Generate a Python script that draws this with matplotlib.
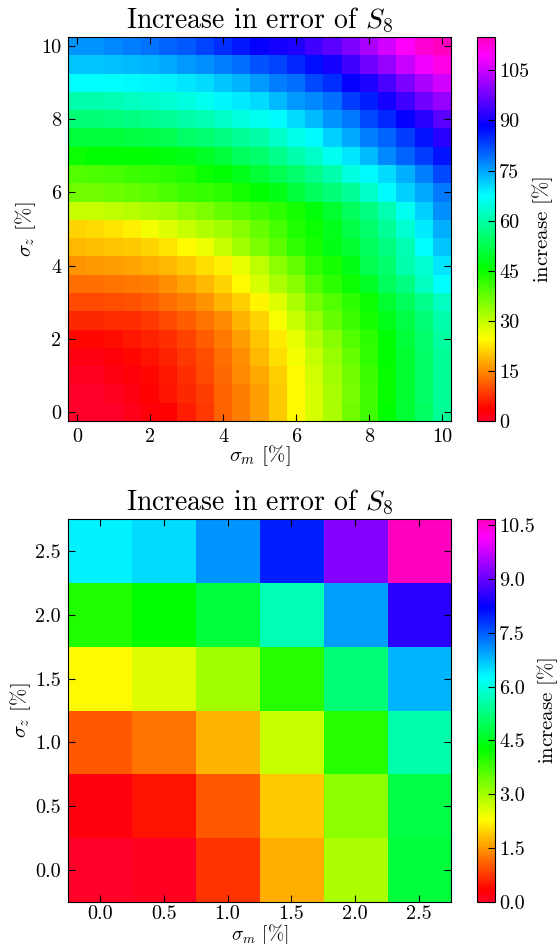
import numpy as np
import matplotlib
matplotlib.use("Agg")
import matplotlib.pyplot as plt

plt.rcParams["font.family"] = "serif"
plt.rcParams["font.serif"] = ["cmr10", "DejaVu Serif"]
plt.rcParams["mathtext.fontset"] = "cm"
plt.rcParams["axes.unicode_minus"] = False
plt.rcParams["axes.formatter.use_mathtext"] = True

# grid of sigma_m / sigma_z values [%]
sigma_fine = np.arange(0, 10.01, 0.5)
sigma_coarse = np.arange(0, 2.51, 0.5)

# increase in error of S8 [%], rows from sigma_z = 0 up to sigma_z = 10
inc_fine = [
    [0, 0, 0.3, 1.5, 3, 4, 6, 8.5, 11.8, 14.3, 17, 20.3, 24.5, 28, 31.8, 36.5, 40.5, 46, 50.5, 54, 58.6],
    [0, 0, 0.8, 2.2, 3.8, 5.1, 6.8, 8.9, 11.8, 14.3, 17, 20.5, 24.3, 28, 32.2, 36.3, 40.5, 45.5, 50.2, 54.4, 58.6],
    [0.5, 0.8, 1.8, 3, 4.3, 5.5, 7.2, 9.7, 12.2, 15.2, 17.8, 20.8, 24.3, 28.5, 32.6, 36.7, 41, 45.5, 50.2, 54.4, 58.6],
    [1.8, 2.2, 3, 4.3, 5.1, 6.4, 8.1, 10.1, 12.7, 15.6, 19.1, 22.3, 25.7, 29.4, 33.4, 37.5, 41.8, 46, 50.2, 54.4, 58.6],
    [4.3, 4.3, 4.7, 5.5, 6.4, 7.6, 9.3, 11.4, 13.9, 16.8, 19.8, 23, 26.9, 31, 35, 39.3, 42.6, 46.7, 51, 55.2, 59.5],
    [6.8, 6.8, 7.2, 7.6, 8.5, 9.7, 11.4, 13.1, 15.2, 18.5, 21.2, 25.3, 29.4, 33.4, 37.5, 41, 44.3, 48.5, 51.8, 56, 60.3],
    [9.7, 9.7, 10, 10.5, 11.4, 12.7, 14.3, 16, 18.5, 21, 24, 27.5, 31.8, 36, 39.3, 42.6, 45, 50.2, 53.6, 57.8, 62],
    [12.7, 12.9, 13.1, 13.5, 14.3, 15.6, 17.2, 19.3, 21.3, 24.7, 28, 31.8, 35, 39.3, 42.6, 45, 49.4, 53.6, 57, 62, 67],
    [16, 16.4, 16.8, 17.2, 18.1, 19.3, 20.6, 22.3, 23.5, 26.9, 30.5, 34.2, 37.5, 41.8, 44.3, 47.7, 52.6, 55.2, 60.3, 63.7, 69.5],
    [19.3, 19.7, 20.1, 20.5, 21.3, 22.6, 24.7, 26.5, 29.4, 32.6, 35.5, 38.5, 41.8, 44.3, 47.7, 50.2, 53.6, 57, 61, 67, 72],
    [21.5, 21.8, 22.7, 23.5, 25.7, 27.5, 29.4, 31, 32.6, 35, 37.5, 40, 43.5, 45, 48.5, 51.8, 55.2, 58.6, 63.7, 69, 74],
    [29.4, 29.4, 30.2, 30.6, 31.8, 32.6, 34.2, 35.8, 37.5, 39, 40.5, 42.5, 44.3, 47, 50, 53.6, 57, 61, 66.3, 71, 76.5],
    [36.4, 36.4, 37, 37.7, 38.5, 39.7, 40.9, 41.5, 42.6, 44.3, 46, 47.7, 51, 53.6, 56, 58.6, 62.8, 67.4, 71, 74.5, 78.5],
    [39.3, 39.7, 40, 41, 41.5, 42.6, 43.5, 45, 46.7, 48.5, 50.5, 52.6, 55.2, 57.8, 60.3, 64.6, 67.4, 70.5, 74, 78, 82.5],
    [45, 46, 46, 46, 46.3, 46.8, 47.7, 49.4, 51, 53.6, 55.2, 57.8, 60.3, 62.8, 66.3, 69.5, 73, 77, 80.3, 83.5, 87],
    [51, 51, 51, 51.4, 51.8, 52.6, 54.4, 55.6, 57, 58.6, 60, 62.8, 65.3, 67.4, 71, 74.5, 78, 80.3, 83.5, 87, 92],
    [56, 56, 56.5, 57, 57.8, 58.6, 59.8, 61, 62.8, 64.6, 66.3, 67.4, 70.5, 73, 76, 78.5, 82.5, 85, 88.6, 92, 96],
    [60.3, 60.3, 61, 62, 62.8, 63.7, 65, 66.2, 68, 68.8, 70.5, 73, 75.5, 77, 79.5, 83.5, 86, 90, 93.5, 97.5, 101],
    [67, 67, 67, 67.4, 68, 68.5, 69.5, 70.5, 72, 73.5, 75.5, 78, 79.5, 82.5, 84.5, 88.6, 91, 94.5, 98.5, 102.7, 106],
    [72, 72, 72.5, 73, 73.5, 74.5, 75.5, 76.5, 78, 79.5, 81.5, 83, 85, 87.5, 90, 93.5, 97.5, 101, 105, 108.5, 111.5],
    [76, 76, 77, 78, 79, 80, 81, 83, 84.5, 86.5, 88.6, 90, 91, 93.5, 96, 99, 102.5, 106, 110, 113, 115],
]

inc_coarse = [
    [0.0, 0.08, 0.71, 1.68, 2.95, 4.73],
    [0.24, 0.47, 1.02, 1.91, 3.18, 4.81],
    [1.02, 1.25, 1.75, 2.72, 4.0, 5.59],
    [2.29, 2.57, 3.03, 3.96, 5.2, 6.83],
    [4.03, 4.27, 4.73, 5.68, 6.98, 8.52],
    [6.37, 6.52, 7.06, 8.0, 9.22, 10.67],
]

fine_ticks = [0, 2, 4, 6, 8, 10]
coarse_ticks = [0.0, 0.5, 1.0, 1.5, 2.0, 2.5]
cbar_ticks_fine = [0, 15, 30, 45, 60, 75, 90, 105]
cbar_ticks_coarse = [0.0, 1.5, 3.0, 4.5, 6.0, 7.5, 9.0, 10.5]

W, H = 557, 944
fig = plt.figure(figsize=(W / 100, H / 100), dpi=100)


def panel(rect, crect, grid, values, ticks, cticks, fmt, xtpad, xpad, xsize, cpad):
    ax = fig.add_axes(rect)
    cax = fig.add_axes(crect)
    step = grid[1] - grid[0]
    ext = [grid[0] - step / 2, grid[-1] + step / 2, grid[0] - step / 2, grid[-1] + step / 2]
    im = ax.imshow(np.array(values), origin="lower", extent=ext, cmap="gist_rainbow",
                   interpolation="nearest", aspect="auto")
    ax.set_xticks(ticks)
    ax.set_yticks(ticks)
    ax.set_xticklabels([fmt % t for t in ticks])
    ax.set_yticklabels([fmt % t for t in ticks])
    ax.tick_params(direction="in", top=True, right=True, length=5, labelsize=14.5, pad=5)
    ax.tick_params(axis="x", pad=xtpad)
    ax.set_xlabel(r"$\sigma_m$ [$\%$]", fontsize=xsize, labelpad=xpad)
    ax.set_ylabel(r"$\sigma_z$ [$\%$]", fontsize=15, labelpad=2)
    ax.set_title(r"Increase in error of $S_8$", fontsize=20, pad=6)
    cb = fig.colorbar(im, cax=cax, ticks=cticks)
    cb.ax.set_yticklabels([fmt % t for t in cticks])
    cb.ax.tick_params(direction="in", length=5, labelsize=14.5, pad=3)
    cb.set_label(r"increase [$\%$]", fontsize=15, labelpad=cpad)
    return ax


panel([68 / W, 1 - 421 / H, 383 / W, 384 / H], [477 / W, 1 - 421 / H, 18 / W, 384 / H],
      sigma_fine, inc_fine, fine_ticks, cbar_ticks_fine, "%d", 5, -2, 15, 1)
panel([68 / W, 1 - 902 / H, 383 / W, 383 / H], [477 / W, 1 - 902 / H, 18 / W, 383 / H],
      sigma_coarse, inc_coarse, coarse_ticks, cbar_ticks_coarse, "%.1f", 2, 0, 14, 0)

fig.savefig("out.png", dpi=100)
